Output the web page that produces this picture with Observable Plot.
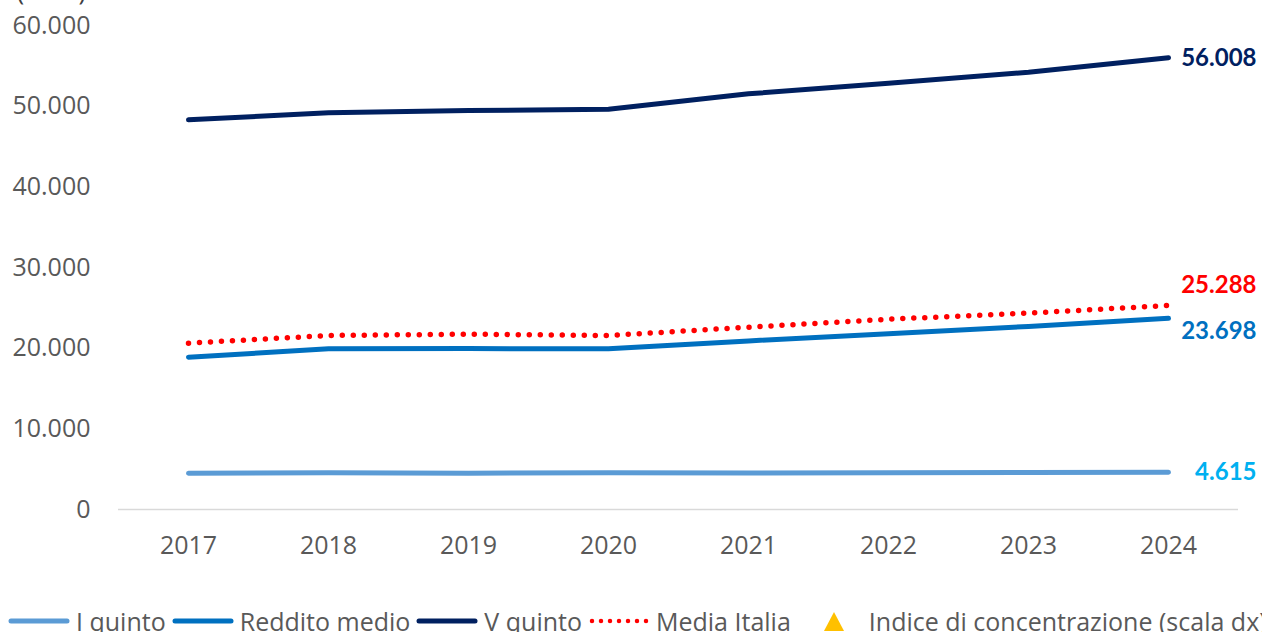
<!DOCTYPE html>
<html>
<head>
<meta charset="utf-8">
<script src="https://cdn.jsdelivr.net/npm/d3@7"></script>
<script src="https://cdn.jsdelivr.net/npm/@observablehq/plot@0.6"></script>
<style>
  html, body { margin: 0; padding: 0; background: #fff; overflow: hidden; }
  #wrap { position: relative; width: 1262px; height: 632px; font-family: "Open Sans", sans-serif; }
  #unit { position: absolute; top: -27px; left: 0; width: 86px; text-align: right; font-size: 25px; color: #404040; z-index: 2; white-space: nowrap; }
  #legend { position: absolute; top: 603px; left: 8px; height: 36px; display: flex; align-items: center; font-size: 25px; color: #595959; white-space: nowrap; }
  #legend .item { display: flex; align-items: center; }
  #legend svg { display: block; }
</style>
</head>
<body>
<div id="wrap">
  <div id="chart"></div>
  <div id="unit">(euro)</div>
  <div id="legend"></div>
</div>
<script>
const years = ["2017", "2018", "2019", "2020", "2021", "2022", "2023", "2024"];
const iQuinto = [4480, 4560, 4500, 4560, 4530, 4560, 4600, 4615];
const redditoMedio = [18880, 19920, 19950, 19920, 20900, 21800, 22700, 23698];
const vQuinto = [48310, 49180, 49460, 49620, 51530, 52850, 54210, 56008];
const mediaItalia = [20620, 21570, 21730, 21570, 22600, 23590, 24340, 25288];
const yTicks = [0, 10000, 20000, 30000, 40000, 50000, 60000];
const seriesNames = ["I quinto", "Reddito medio", "V quinto", "Media Italia"];
const legendNames = ["I quinto", "Reddito medio", "V quinto", "Media Italia", "Indice di concentrazione (scala dx)"];

const itFmt = d3.formatLocale({decimal: ",", thousands: ".", grouping: [3], currency: ["€", ""]}).format(",");

const seriesValues = [iQuinto, redditoMedio, vQuinto, mediaItalia];
const style = {
  "I quinto": {stroke: "#5B9BD5", label: "#00B0F0", dy: 0},
  "Reddito medio": {stroke: "#0070C0", label: "#0070C0", dy: 13},
  "V quinto": {stroke: "#002060", label: "#002060", dy: 1},
  "Media Italia": {stroke: "#FF0000", label: "#FF0000", dy: -20}
};

const table = [];
seriesNames.forEach((s, i) => years.forEach((y, j) => table.push({series: s, year: y, value: seriesValues[i][j]})));
const last = table.filter(d => d.year === years[years.length - 1]);

const marks = [
  Plot.ruleY([0], {stroke: "#d9d9d9", strokeWidth: 1.5}),
  Plot.axisY({ticks: yTicks, tickSize: 0, tickPadding: 28, tickFormat: itFmt, fontSize: 25, fill: "#595959", label: null}),
  Plot.axisX({tickSize: 0, tickPadding: 27, fontSize: 25, fill: "#595959", label: null})
];
for (const s of ["I quinto", "Reddito medio", "V quinto"]) {
  marks.push(Plot.line(table.filter(d => d.series === s), {x: "year", y: "value", stroke: style[s].stroke, strokeWidth: 5, strokeLinecap: "round", strokeLinejoin: "round"}));
}
marks.push(Plot.line(table.filter(d => d.series === "Media Italia"), {x: "year", y: "value", stroke: style["Media Italia"].stroke, strokeWidth: 5.5, strokeLinecap: "round", strokeDasharray: "0 11"}));
for (const d of last) {
  marks.push(Plot.text([d], {x: "year", y: "value", text: dd => itFmt(dd.value), fill: style[d.series].label, textAnchor: "end", dx: 88, dy: style[d.series].dy, fontWeight: "bold", fontSize: 24, fontFamily: "Lato"}));
}

const chart = Plot.plot({
  width: 1262,
  height: 596,
  marginLeft: 118,
  marginRight: 24,
  marginTop: 25,
  marginBottom: 87,
  style: {fontFamily: "Open Sans", background: "transparent"},
  x: {type: "point", domain: years, padding: 0.5, axis: null},
  y: {domain: [0, 60000], axis: null},
  marks
});
document.getElementById("chart").appendChild(chart);

// legend
const legend = document.getElementById("legend");
const legendSamples = [
  {type: "line", color: "#5B9BD5"},
  {type: "line", color: "#0070C0"},
  {type: "line", color: "#002060"},
  {type: "dot", color: "#FF0000"},
  {type: "tri", color: "#FFC000"}
];
legendNames.forEach((name, i) => {
  const it = document.createElement("div");
  it.className = "item";
  const smp = legendSamples[i];
  let svg;
  if (smp.type === "line") {
    svg = `<svg width="62" height="12"><line x1="3" y1="6" x2="59" y2="6" stroke="${smp.color}" stroke-width="5" stroke-linecap="round"/></svg>`;
  } else if (smp.type === "dot") {
    svg = `<svg width="62" height="12"><line x1="4" y1="6" x2="60" y2="6" stroke="${smp.color}" stroke-width="4.5" stroke-linecap="round" stroke-dasharray="0 9"/></svg>`;
  } else {
    svg = `<svg width="22" height="22"><polygon points="11,2 21,21 1,21" fill="${smp.color}"/></svg>`;
  }
  const gapBefore = i === 0 ? 0 : (smp.type === "tri" ? 32 : 6);
  const gapAfter = smp.type === "tri" ? 24 : 6;
  it.style.marginLeft = gapBefore + "px";
  it.innerHTML = svg + `<span style="margin-left:${gapAfter}px">${name}</span>`;
  legend.appendChild(it);
});
</script>
</body>
</html>
